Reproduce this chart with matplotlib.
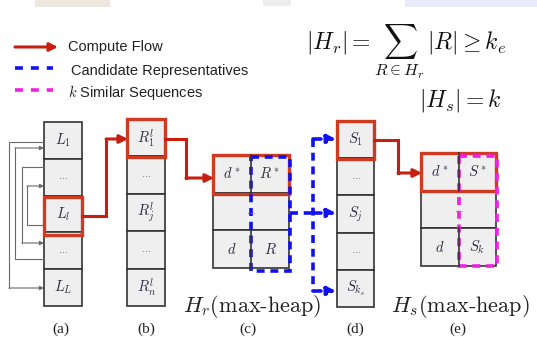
import matplotlib
matplotlib.use("Agg")
import matplotlib.pyplot as plt
from matplotlib.patches import Rectangle

plt.rcParams['mathtext.fontset'] = 'cm'

# cell contents of each structure
list_labels = [r'$L_1$', 'dots', r'$L_l$', 'dots', r'$L_L$']
rep_labels = [r'$R^l_1$', 'dots', r'$R^l_j$', 'dots', r'$R^l_n$']
seq_labels = [r'$S_1$', 'dots', r'$S_j$', 'dots', r'$S_{k_e}$']
heap_r_rows = [(r'$d^*$', r'$R^*$'), None, (r'$d$', r'$R$')]
heap_s_rows = [(r'$d^*$', r'$S^*$'), None, (r'$d$', r'$S_k$')]
sub_labels = ['(a)', '(b)', '(c)', '(d)', '(e)']
legend_items = ['Compute Flow', 'Candidate Representatives', r'$k$ Similar Sequences']

RED = '#c81e10'
BOX_RED = '#d03a20'
BLUE = '#1010f0'
PINK = '#f020e0'
GRID = '#333333'
FILL = '#efefef'
TXT = '#2c2c44'
GRAY = '#6a6a6a'

fig = plt.figure(figsize=(5.37, 3.37), dpi=100)
ax = fig.add_axes([0, 0, 1, 1])
ax.set_xlim(0, 537)
ax.set_ylim(337, 0)
ax.axis('off')


def cell_text(x, y, s):
    if s == 'dots':
        ax.text(x, y, r'$\cdots$', ha='center', va='center', fontsize=7, color='#888888')
    else:
        ax.text(x, y, s, ha='center', va='center', fontsize=10.5, color=TXT)


def column(x0, y0, w, h, labels):
    for i, s in enumerate(labels):
        ax.add_patch(Rectangle((x0, y0 + i * h), w, h, facecolor=FILL, edgecolor=GRID, lw=1.2))
        cell_text(x0 + w / 2, y0 + i * h + h / 2, s)


def heap(x0, y0, w, h, split, rows):
    for i, r in enumerate(rows):
        ax.add_patch(Rectangle((x0, y0 + i * h), w, h, facecolor=FILL, edgecolor=GRID, lw=1.2))
        yc = y0 + i * h + h / 2
        if r is None:
            cell_text(x0 + w / 2, yc, 'dots')
        else:
            ax.plot([split, split], [y0 + i * h, y0 + (i + 1) * h], color=GRID, lw=1.2)
            cell_text((x0 + split) / 2, yc, r[0])
            cell_text((split + x0 + w) / 2, yc, r[1])


def flow(pts, color, ls='-', lw=2.2):
    xs = [p[0] for p in pts]
    ys = [p[1] for p in pts]
    ax.plot(xs[:-1], ys[:-1], color=color, lw=lw, ls=ls, solid_joinstyle='miter')
    ax.annotate('', xy=pts[-1], xytext=pts[-2],
                arrowprops=dict(arrowstyle='-|>', color=color, lw=lw, ls=ls,
                                mutation_scale=12, shrinkA=0, shrinkB=0))


# faint smudges along the top edge
ax.add_patch(Rectangle((35, 0), 75, 7, facecolor='#e9e2d8', edgecolor='none', alpha=0.8))
ax.add_patch(Rectangle((263, 0), 28, 6, facecolor='#eeeeee', edgecolor='none'))
ax.add_patch(Rectangle((405, 0), 132, 7, facecolor='#e4e6f8', edgecolor='none', alpha=0.8))

# legend
ax.annotate('', xy=(58, 47), xytext=(15, 47),
            arrowprops=dict(arrowstyle='-|>', color=RED, lw=2.2, mutation_scale=12, shrinkA=0, shrinkB=0))
ax.plot([15, 53], [68, 68], color=BLUE, lw=2.6, ls=(0, (2.2, 2.2)))
ax.plot([15, 53], [90, 90], color=PINK, lw=2.6, ls=(0, (2.2, 2.2)))
for yy, s in zip([47, 71, 93], legend_items):
    ax.text(68 if yy != 71 else 71, yy, s, ha='left', va='center', fontsize=10.5,
            family='Liberation Sans', color='#222222')

# formulas
ax.text(306, 52, r'$|H_r| = \sum_{R\in H_r}\, |R| \geq k_e$', ha='left', va='center',
        fontsize=17, color='#111111')
ax.text(419, 100, r'$|H_s| = k$', ha='left', va='center', fontsize=17, color='#111111')

# (a) list with reuse links on the left
column(44, 122, 38, 36.8, list_labels)
for xl, y_from, y_to in [(9, 142, 288), (15, 259, 148), (22, 167, 243), (27, 225, 186)]:
    ax.plot([44, xl, xl], [y_from, y_from, y_to], color=GRAY, lw=0.8)
    ax.annotate('', xy=(44, y_to), xytext=(xl, y_to),
                arrowprops=dict(arrowstyle='-|>', color=GRAY, lw=0.8, mutation_scale=6,
                                shrinkA=0, shrinkB=0))
ax.add_patch(Rectangle((44, 197), 38, 38, facecolor='none', edgecolor=BOX_RED, lw=2.4))

# (b) representatives
column(127, 119, 38, 37.4, rep_labels)
ax.add_patch(Rectangle((127, 119), 38, 38, facecolor='none', edgecolor=BOX_RED, lw=2.4))
flow([(82, 216), (106, 216), (106, 139), (128, 139)], RED)

# (c) candidate heap
heap(213, 155, 76, 37.7, 251, heap_r_rows)
ax.add_patch(Rectangle((213, 155), 76, 39, facecolor='none', edgecolor=BOX_RED, lw=2.4))
ax.add_patch(Rectangle((251, 157), 39, 114, facecolor='none', edgecolor=BLUE, lw=2.6,
                       ls=(0, (2.2, 1.6))))
flow([(165, 139), (186, 139), (186, 178), (214, 178)], RED)

# candidate links into (d)
ax.plot([290, 313], [213, 213], color=BLUE, lw=2.6, ls=(0, (2.2, 1.6)))
ax.plot([313, 313], [139, 291], color=BLUE, lw=2.6, ls=(0, (2.2, 1.6)))
for yy in [139, 213, 291]:
    flow([(313, yy), (336, yy)], BLUE, ls=(0, (2.2, 1.6)), lw=2.6)

# (d) sequences
column(337, 121, 37, 37.2, seq_labels)
ax.add_patch(Rectangle((337, 121), 37, 38, facecolor='none', edgecolor=BOX_RED, lw=2.4))

# (e) result heap
heap(421, 153, 75, 37.7, 459, heap_s_rows)
ax.add_patch(Rectangle((421, 153), 75, 38, facecolor='none', edgecolor=BOX_RED, lw=2.4))
ax.add_patch(Rectangle((459, 156), 38, 110, facecolor='none', edgecolor=PINK, lw=2.6,
                       ls=(0, (2.2, 1.6))))
flow([(374, 140), (398, 140), (398, 173), (422, 173)], RED)

# captions
ax.text(252, 307, r'$H_r(\text{max-heap})$', ha='center', va='center', fontsize=16, color='#222222')
ax.text(460, 307, r'$H_s(\text{max-heap})$', ha='center', va='center', fontsize=16, color='#222222')
for xx, s in zip([61, 146, 248, 355, 458], sub_labels):
    ax.text(xx, 329, s, ha='center', va='center', fontsize=11, family='Liberation Serif',
            color='#222222')

fig.savefig('out.png', dpi=100)
